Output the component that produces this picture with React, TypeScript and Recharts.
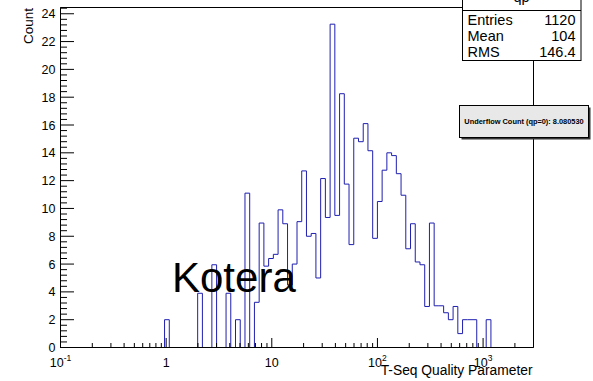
import { LineChart, Line, XAxis, YAxis, ReferenceArea } from "recharts";

// qp histogram, 100 log-spaced bins from 0.1 to 3000
const binCounts = [
  0, 0, 0, 0, 0, 0, 0, 0, 0, 0,
  0, 0, 0, 0, 0, 0, 0, 0, 0, 0,
  0, 0, 2, 0, 0, 0, 0, 0, 0, 3.9,
  0, 0, 5.95, 0, 0, 3.9, 0, 2, 0, 11.1,
  0, 3.25, 8.95, 5.85, 6.4, 6.7, 9.9, 8.9, 4.5, 6.0,
  9.05, 12.7, 8.0, 8.2, 5.0, 12.15, 9.35, 23.25, 9.5, 18.25,
  11.75, 7.4, 15.05, 14.8, 16.1, 14.15, 7.85, 10.5, 12.75, 14.0,
  13.8, 12.5, 10.95, 7.1, 8.9, 6.15, 5.95, 2.95, 8.95, 3.0,
  3.0, 2.5, 2.0, 2.95, 1.0, 2.0, 2.0, 2.0, 0, 0,
  2.0, 0, 0, 0, 0, 0, 0, 0, 0, 0,
];
const xMin = 0.1;
const xMax = 3000;
const yMax = 24.45;

const xMajorTicks = [0.1, 1, 10, 100, 1000];
const xMinorTicks = [
  0.2, 0.3, 0.4, 0.5, 0.6, 0.7, 0.8, 0.9,
  2, 3, 4, 5, 6, 7, 8, 9,
  20, 30, 40, 50, 60, 70, 80, 90,
  200, 300, 400, 500, 600, 700, 800, 900,
  2000,
];
const xTickLabels: Record<number, [string, string]> = {
  0.1: ["10", "-1"],
  1: ["1", ""],
  10: ["10", ""],
  100: ["10", "2"],
  1000: ["10", "3"],
};
// major every 2, 5 divisions
const yTicks = Array.from({ length: 62 }, (_, i) => Math.round(i * 4) / 10);

const stats = [
  ["Entries", "1120"],
  ["Mean", "104"],
  ["RMS", "146.4"],
];

const binEdges = Array.from(
  { length: binCounts.length + 1 },
  (_, i) => xMin * Math.pow(xMax / xMin, i / binCounts.length)
);
const data = binEdges.map((x, i) => ({
  x,
  count: binCounts[Math.min(i, binCounts.length - 1)],
}));

const FONT = "'Liberation Sans', Arial, sans-serif";
const HIST = "#1f1fb0";

function XTick(props: any) {
  const { x, y, payload } = props;
  const v = payload.value;
  const lab = xTickLabels[v];
  const major = !!lab;
  return (
    <g>
      <line x1={x} x2={x} y1={y} y2={y - (major ? 9.5 : 4.5)} stroke="#000" />
      {lab && (
        <text x={x} y={y + 19.5} textAnchor="middle" fontFamily={FONT} fontSize={12.5} fill="#000">
          <tspan>{lab[0]}</tspan>
          {lab[1] && (
            <tspan dy={-6} fontSize={8.5}>
              {lab[1]}
            </tspan>
          )}
        </text>
      )}
    </g>
  );
}

function YTick(props: any) {
  const { x, y, payload } = props;
  const v = payload.value;
  const major = Math.abs(v / 2 - Math.round(v / 2)) < 1e-6;
  return (
    <g>
      <line x1={x} x2={x + (major ? 13.5 : 6.5)} y1={y} y2={y} stroke="#000" />
      {major && (
        <text x={x - 5} y={y + 4.5} textAnchor="end" fontFamily={FONT} fontSize={12.5} fill="#000">
          {v}
        </text>
      )}
    </g>
  );
}

export default function App() {
  return (
    <div style={{ position: "absolute", left: 0, top: 0, width: 593, height: 381, background: "#fff" }}>
      <LineChart
        width={593}
        height={381}
        data={data}
        margin={{ top: 7.5, right: 59.5, bottom: 0, left: 0 }}
      >
        <XAxis
          dataKey="x"
          type="number"
          scale="log"
          domain={[xMin, xMax]}
          allowDataOverflow
          ticks={[...xMajorTicks, ...xMinorTicks]}
          interval={0}
          tick={<XTick />}
          tickLine={false}
          tickSize={0}
          tickMargin={0}
          height={33.5}
          axisLine={{ stroke: "#000" }}
        />
        <YAxis
          type="number"
          domain={[0, yMax]}
          allowDataOverflow
          ticks={yTicks}
          interval={0}
          tick={<YTick />}
          tickLine={false}
          tickSize={0}
          tickMargin={0}
          width={60.5}
          axisLine={{ stroke: "#000" }}
        />
        <ReferenceArea x1={xMin} x2={xMax} y1={0} y2={yMax} fill="none" stroke="#000" strokeWidth={1} />
        <Line
          dataKey="count"
          type="stepAfter"
          stroke={HIST}
          strokeWidth={1}
          dot={false}
          activeDot={false}
          isAnimationActive={false}
        />
      </LineChart>
      <svg
        width={593}
        height={381}
        style={{ position: "absolute", left: 0, top: 0, pointerEvents: "none" }}
        fontFamily={FONT}
      >
        {/* stats box */}
        <rect x={462.5} y={-20} width={118.5} height={80.5} fill="#fff" stroke="#000" />
        <line x1={462.5} x2={581} y1={10.5} y2={10.5} stroke="#000" />
        <text x={521.5} y={2} textAnchor="middle" fontSize={14.5}>
          qp
        </text>
        {stats.map(([k, v], i) => (
          <g key={k}>
            <text x={467.5} y={25 + i * 16.2} fontSize={14.5}>
              {k}
            </text>
            <text x={575.5} y={25 + i * 16.2} fontSize={14.5} textAnchor="end">
              {v}
            </text>
          </g>
        ))}
        {/* underflow note */}
        <rect x={461.5} y={107.5} width={129} height={32} fill="#333" />
        <rect x={459.5} y={105.5} width={129} height={32} fill="#e8e8e8" stroke="#000" />
        <text x={524} y={124} textAnchor="middle" fontSize={7.4} fontWeight="bold">
          Underflow Count (qp=0): 8.080530
        </text>
        {/* titles */}
        <text transform="translate(33,8) rotate(-90)" textAnchor="end" fontSize={13.5}>
          Count
        </text>
        <text x={532.5} y={375} textAnchor="end" fontSize={13.8}>
          T-Seq Quality Parameter
        </text>
        <text x={172} y={292.3} fontSize={42} fill="#000">
          Kotera
        </text>
      </svg>
    </div>
  );
}
